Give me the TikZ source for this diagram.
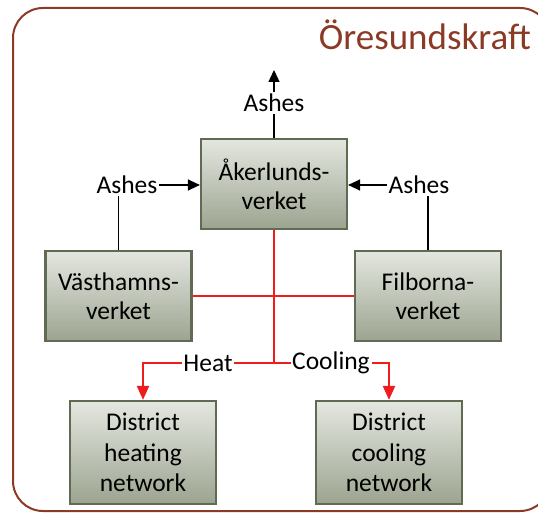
\documentclass[tikz,border=0pt]{standalone}
\usepackage{fontspec}
\setmainfont{Carlito}
\usetikzlibrary{arrows.meta}
\definecolor{frame}{HTML}{8B3A26}
\definecolor{boxline}{HTML}{5F6C53}
\definecolor{boxtop}{HTML}{E4E7E0}
\definecolor{boxbot}{HTML}{9CA490}
\definecolor{heatred}{HTML}{EE1C1C}
\begin{document}
\begin{tikzpicture}[x=1pt,y=-1pt,
  plant/.style={draw=boxline,line width=2.2pt,top color=boxtop,bottom color=boxbot,
    minimum width=146pt,minimum height=90pt,align=center,
    font=\fontsize{25.5}{29}\selectfont,inner sep=0pt},
  netbox/.style={plant,minimum height=103pt,font=\fontsize{25.5}{30.5}\selectfont},
  lbl/.style={font=\fontsize{25.5}{29}\selectfont,inner sep=1.5pt},
  blk/.style={line width=1.3pt,draw=black},
  blkarr/.style={blk,-{Triangle[length=12pt,width=11pt]}},
  redthin/.style={line width=1.3pt,draw=heatred},
  redarr/.style={line width=2.2pt,draw=heatred,-{Triangle[length=14pt,width=12pt]}},
]
\useasboundingbox (0,0) rectangle (538,518);
\draw[frame,line width=2pt,rounded corners=30pt] (13,8) rectangle (550,511);
\node[anchor=base east,text=frame,font=\fontsize{37}{42}\selectfont,inner sep=0pt] (title) at (531,50) {Öresundskraft};

\node[plant] (ak) at (274,184) {Åkerlunds-\\verket};
\node[plant] (va) at (118.5,296) {Västhamns-\\verket};
\node[plant] (fi) at (428,296) {Filborna-\\verket};
\node[netbox] (dh) at (143,452.5) {District\\heating\\network};
\node[netbox] (dc) at (389,452.5) {District\\cooling\\network};

\node[lbl] (ashT) at (274,103) {Ashes};
\node[lbl] (ashL) at (127,185) {Ashes};
\node[lbl] (ashR) at (419,185) {Ashes};
\node[lbl] (heat) at (208,363) {Heat};
\node[lbl] (cool) at (331,363) {Cooling};
\coordinate (top) at (274,70);
\coordinate (j) at (274,363);

% black ash flows
\draw[blk] (ak.north) -- (ashT.south);
\draw[blkarr] (ashT.north) -- (top);
\draw[blk] (va.north) -- (va.north |- ashL.south);
\draw[blkarr] (ashL.east) -- (ashL.east -| ak.west);
\draw[blk] (fi.north) -- (fi.north |- ashR.south);
\draw[blkarr] (ashR.west) -- (ashR.west -| ak.east);

% red heat network
\draw[redthin] (va.east) -- (fi.west);
\draw[redthin] (ak.south) -- (j);
\draw[line width=2.2pt,draw=heatred] (j) -- (heat.east);
\draw[line width=2.2pt,draw=heatred] (j) -- (cool.west);
\draw[redarr] (heat.west) -| (dh.north);
\draw[redarr] (cool.east) -| (dc.north);
\end{tikzpicture}
\end{document}
